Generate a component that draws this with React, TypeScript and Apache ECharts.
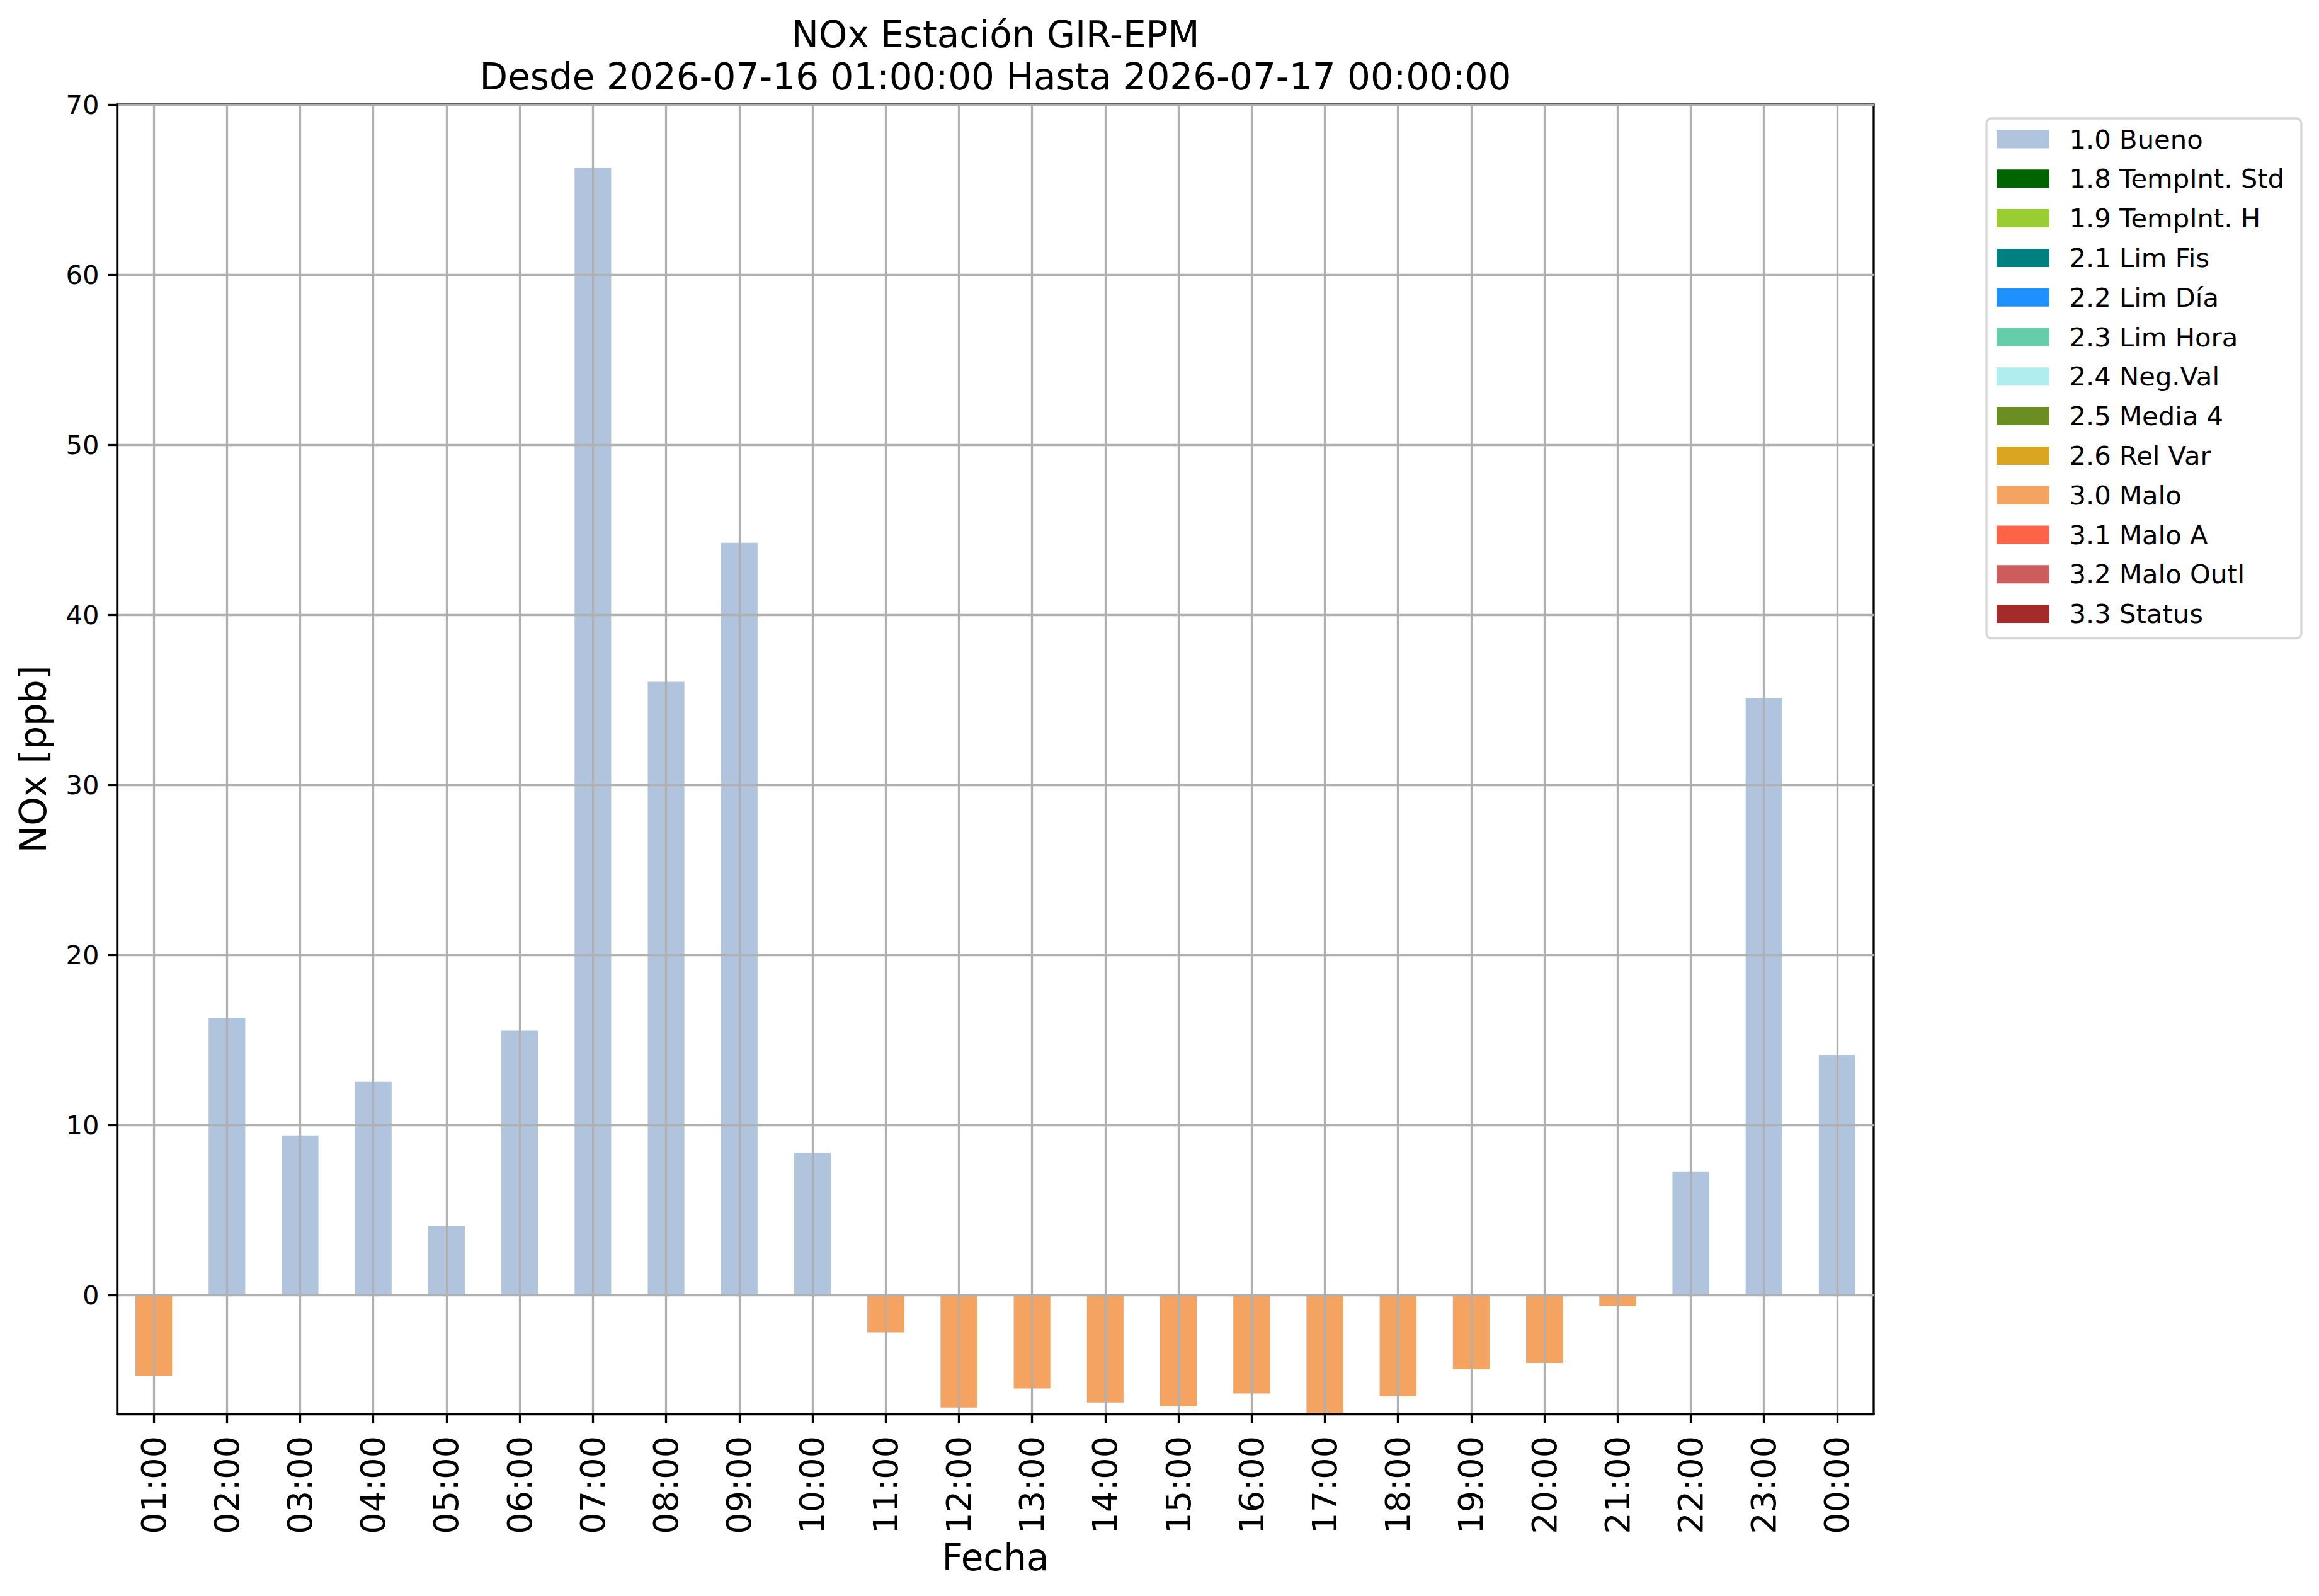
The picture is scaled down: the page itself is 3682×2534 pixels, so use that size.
import React, { useEffect, useRef } from 'react';
import * as echarts from 'echarts';

// ---- data ----
const hours = [
  '01:00', '02:00', '03:00', '04:00', '05:00', '06:00', '07:00', '08:00',
  '09:00', '10:00', '11:00', '12:00', '13:00', '14:00', '15:00', '16:00',
  '17:00', '18:00', '19:00', '20:00', '21:00', '22:00', '23:00', '00:00',
];
const noxValues = [
  -4.74, 16.3, 9.38, 12.53, 4.06, 15.54, 66.3, 36.06,
  44.23, 8.35, -2.2, -6.62, -5.5, -6.32, -6.55, -5.8,
  -7.0, -5.95, -4.37, -4.0, -0.65, 7.23, 35.11, 14.11,
];
const hourFlags = [
  '3.0 Malo', '1.0 Bueno', '1.0 Bueno', '1.0 Bueno', '1.0 Bueno', '1.0 Bueno', '1.0 Bueno', '1.0 Bueno',
  '1.0 Bueno', '1.0 Bueno', '3.0 Malo', '3.0 Malo', '3.0 Malo', '3.0 Malo', '3.0 Malo', '3.0 Malo',
  '3.0 Malo', '3.0 Malo', '3.0 Malo', '3.0 Malo', '3.0 Malo', '1.0 Bueno', '1.0 Bueno', '1.0 Bueno',
];
const flagNames = [
  '1.0 Bueno', '1.8 TempInt. Std', '1.9 TempInt. H', '2.1 Lim Fis', '2.2 Lim Día',
  '2.3 Lim Hora', '2.4 Neg.Val', '2.5 Media 4', '2.6 Rel Var', '3.0 Malo',
  '3.1 Malo A', '3.2 Malo Outl', '3.3 Status',
];
const flagColors = [
  '#B0C4DE', '#006400', '#9ACD32', '#008080', '#1E90FF',
  '#66CDAA', '#AFEEEE', '#6B8E23', '#DAA520', '#F4A460',
  '#FF6347', '#CD5C5C', '#A52A2A',
];
const yTickValues = [0, 10, 20, 30, 40, 50, 60, 70];
const yMax = 70;
const titleLines = ['NOx Estación GIR-EPM', 'Desde 2026-07-16 01:00:00 Hasta 2026-07-17 00:00:00'];
const xAxisName = 'Fecha';
const yAxisName = 'NOx [ppb]';

// ---- layout ----
const W = 3682;
const H = 2534;
const FONT = 'DejaVu Sans';
const PLOT_LEFT = 186;
const PLOT_RIGHT = 2975;
const PLOT_TOP = 166;
const PLOT_BOTTOM = 2245;
const LW = 3.3;
const GRID_COLOR = '#b0b0b0';

export default function App() {
  const ref = useRef<HTMLDivElement>(null);

  useEffect(() => {
    if (!ref.current) return;
    const chart = echarts.init(ref.current, undefined, { renderer: 'svg' });
    const yMin = Math.min(...noxValues);
    const centerX = (PLOT_LEFT + PLOT_RIGHT) / 2;

    const series = flagNames.map((name, k) => ({
      name,
      type: 'bar',
      stack: 'flags',
      barWidth: '50%',
      z: 2,
      itemStyle: { color: flagColors[k] },
      data: hours.map((_, i) => (hourFlags[i] === name ? noxValues[i] : '-')),
    }));

    const option: any = {
      animation: false,
      backgroundColor: '#ffffff',
      textStyle: { fontFamily: FONT },
      grid: {
        left: PLOT_LEFT,
        right: W - PLOT_RIGHT,
        top: PLOT_TOP,
        bottom: H - PLOT_BOTTOM,
        containLabel: false,
        outerBoundsMode: 'none',
        show: true,
        borderColor: '#000',
        borderWidth: LW,
        backgroundColor: 'transparent',
      },
      graphic: [
        {
          type: 'text',
          x: centerX,
          y: 55,
          style: { text: titleLines[0], fontSize: 58, fontFamily: FONT, fill: '#000', align: 'center', verticalAlign: 'middle' },
        },
        {
          type: 'text',
          x: centerX,
          y: 122,
          style: { text: titleLines[1], fontSize: 58, fontFamily: FONT, fill: '#000', align: 'center', verticalAlign: 'middle' },
        },
      ],
      legend: {
        orient: 'vertical',
        left: 3154,
        top: 188,
        data: flagNames,
        icon: 'rect',
        itemWidth: 83.5,
        itemHeight: 29,
        itemGap: 20.8,
        padding: [12, 27, 18, 16],
        borderColor: '#d6d6d6',
        borderWidth: LW,
        borderRadius: 8,
        backgroundColor: '#ffffff',
        selectedMode: false,
        textStyle: { fontSize: 41.7, color: '#000', fontFamily: FONT, lineHeight: 42, padding: [0, 0, 0, 27] },
      },
      xAxis: {
        type: 'category',
        data: hours,
        z: 5,
        boundaryGap: true,
        name: xAxisName,
        nameLocation: 'middle',
        nameGap: 199,
        nameTextStyle: { fontSize: 58, color: '#000', fontFamily: FONT },
        axisLine: { show: true, onZero: false, lineStyle: { color: '#000', width: LW } },
        axisTick: { show: true, alignWithLabel: true, interval: 0, length: 14.6, lineStyle: { color: '#000', width: LW } },
        axisLabel: { interval: 0, rotate: 90, fontSize: 54, color: '#000', margin: 35, fontFamily: FONT },
        splitLine: { show: true, alignWithLabel: true, interval: 0, lineStyle: { color: GRID_COLOR, width: LW } },
      },
      yAxis: {
        type: 'value',
        min: yMin,
        max: yMax,
        z: 5,
        name: yAxisName,
        nameLocation: 'middle',
        nameRotate: 90,
        nameGap: 104,
        nameTextStyle: { fontSize: 58, color: '#000', fontFamily: FONT },
        axisLine: { show: true, onZero: false, lineStyle: { color: '#000', width: LW } },
        axisTick: { show: true, length: 14.6, customValues: yTickValues, lineStyle: { color: '#000', width: LW } },
        axisLabel: { customValues: yTickValues, fontSize: 41.7, color: '#000', margin: 28.5, fontFamily: FONT },
        splitLine: { show: true, lineStyle: { color: GRID_COLOR, width: LW } },
      },
      series,
    };

    chart.setOption(option);
    return () => chart.dispose();
  }, []);

  return (
    <div
      ref={ref}
      style={{ position: 'absolute', left: 0, top: 0, width: W + 'px', height: H + 'px', background: '#fff' }}
    />
  );
}
